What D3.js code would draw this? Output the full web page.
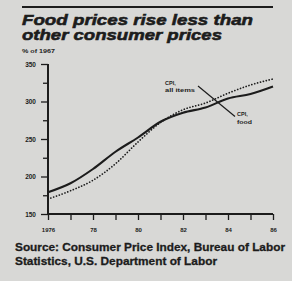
<!DOCTYPE html>
<html><head><meta charset="utf-8">
<script src="https://cdn.jsdelivr.net/npm/d3@7"></script>
<style>
html,body{margin:0;padding:0;background:#d8d8d6;}
svg{display:block;}
text{font-family:"Liberation Sans",Arial,sans-serif;fill:#1c1c1c;font-weight:bold;}
</style></head>
<body>
<svg id="c" width="292" height="281"></svg>
<script>
const years = [1976,1977,1978,1979,1980,1981,1982,1983,1984,1985,1986];
const allItems = [170,181,195,217,246,272,289,298,311,322,330];
const food = [179,191,210,233,252,273,285,292,304,310,320];
const yTicks = [150,200,250,300,350];
const xTickLabels = ["1976","78","80","82","84","86"];

const svg = d3.select("#c");
const x = d3.scaleLinear().domain([1976,1986]).range([48,273]);
const y = d3.scaleLinear().domain([150,350]).range([214,64]);
const ink = "#1c1c1c";

// top rule
svg.append("line").attr("x1",22).attr("x2",273).attr("y1",7).attr("y2",7)
  .attr("stroke",ink).attr("stroke-width",2);

// title
svg.append("text").attr("x",22).attr("y",25).attr("font-size",15.5).attr("font-style","italic")
  .attr("font-weight",900).attr("stroke",ink).attr("stroke-width",0.6)
  .attr("textLength",231).attr("lengthAdjust","spacingAndGlyphs")
  .text("Food prices rise less than");
svg.append("text").attr("x",22).attr("y",39.5).attr("font-size",15.5).attr("font-style","italic")
  .attr("font-weight",900).attr("stroke",ink).attr("stroke-width",0.6)
  .attr("textLength",200).attr("lengthAdjust","spacingAndGlyphs")
  .text("other consumer prices");
svg.append("text").attr("x",22).attr("y",53).attr("font-size",5.5)
  .attr("textLength",33).attr("lengthAdjust","spacingAndGlyphs").text("% of 1967");

// y axis
const yAxis = d3.axisLeft(y).tickValues(d3.range(150,351,25)).tickSize(0).tickFormat("");
const gy = svg.append("g").attr("transform","translate(48,0)").call(yAxis);
gy.select(".domain").remove();
gy.selectAll(".tick line").attr("x2",d=> yTicks.includes(d)? -7 : -5).attr("stroke",ink).attr("stroke-width",1.3);
gy.selectAll(".tick").filter(d=>yTicks.includes(d)).append("text")
  .attr("x",-12).attr("dy","0.35em").attr("text-anchor","end").attr("font-size",6.5)
  .attr("fill",ink).text(d=>d);

// x axis
const xAxis = d3.axisBottom(x).tickValues(years).tickSize(0).tickFormat("");
const gx = svg.append("g").attr("transform","translate(0,214)").call(xAxis);
gx.select(".domain").remove();
gx.selectAll(".tick line").attr("y2",6).attr("stroke",ink).attr("stroke-width",1.3);
gx.selectAll(".tick").filter((d,i)=>i%2===0).append("text")
  .attr("y",18).attr("text-anchor","middle").attr("font-size",6)
  .attr("fill",ink).text((d,i)=>xTickLabels[years.indexOf(d)/2]);

// axis lines
svg.append("path").attr("d",`M${x(1976)},${y(350)}V${y(150)}H${x(1986)}`)
  .attr("fill","none").attr("stroke",ink).attr("stroke-width",2);

// lines
const lineGen = vals => d3.line().x((d,i)=>x(years[i])).y(d=>y(d)).curve(d3.curveMonotoneX)(vals);
svg.append("path").attr("d",lineGen(allItems)).attr("fill","none").attr("stroke",ink)
  .attr("stroke-width",1.7).attr("stroke-dasharray","0.1,2.9").attr("stroke-linecap","round");
svg.append("path").attr("d",lineGen(food)).attr("fill","none").attr("stroke",ink)
  .attr("stroke-width",2.1);

// labels
svg.append("line").attr("x1",198).attr("y1",86).attr("x2",235).attr("y2",116.5)
  .attr("stroke",ink).attr("stroke-width",1.2);
svg.append("text").attr("x",165).attr("y",84.5).attr("font-size",5.5).text("CPI,");
svg.append("text").attr("x",165).attr("y",92).attr("font-size",5.5)
  .attr("textLength",30).attr("lengthAdjust","spacingAndGlyphs").text("all items");
svg.append("text").attr("x",237).attr("y",116).attr("font-size",5.5).text("CPI,");
svg.append("text").attr("x",237).attr("y",123.5).attr("font-size",5.5)
  .attr("textLength",15).attr("lengthAdjust","spacingAndGlyphs").text("food");

// source
svg.append("text").attr("x",15).attr("y",251).attr("font-size",11.5)
  .attr("stroke",ink).attr("stroke-width",0.3)
  .attr("textLength",270).attr("lengthAdjust","spacingAndGlyphs")
  .text("Source: Consumer Price Index, Bureau of Labor");
svg.append("text").attr("x",15).attr("y",264.5).attr("font-size",11.5)
  .attr("stroke",ink).attr("stroke-width",0.3)
  .attr("textLength",202).attr("lengthAdjust","spacingAndGlyphs")
  .text("Statistics, U.S. Department of Labor");
</script>
</body></html>
